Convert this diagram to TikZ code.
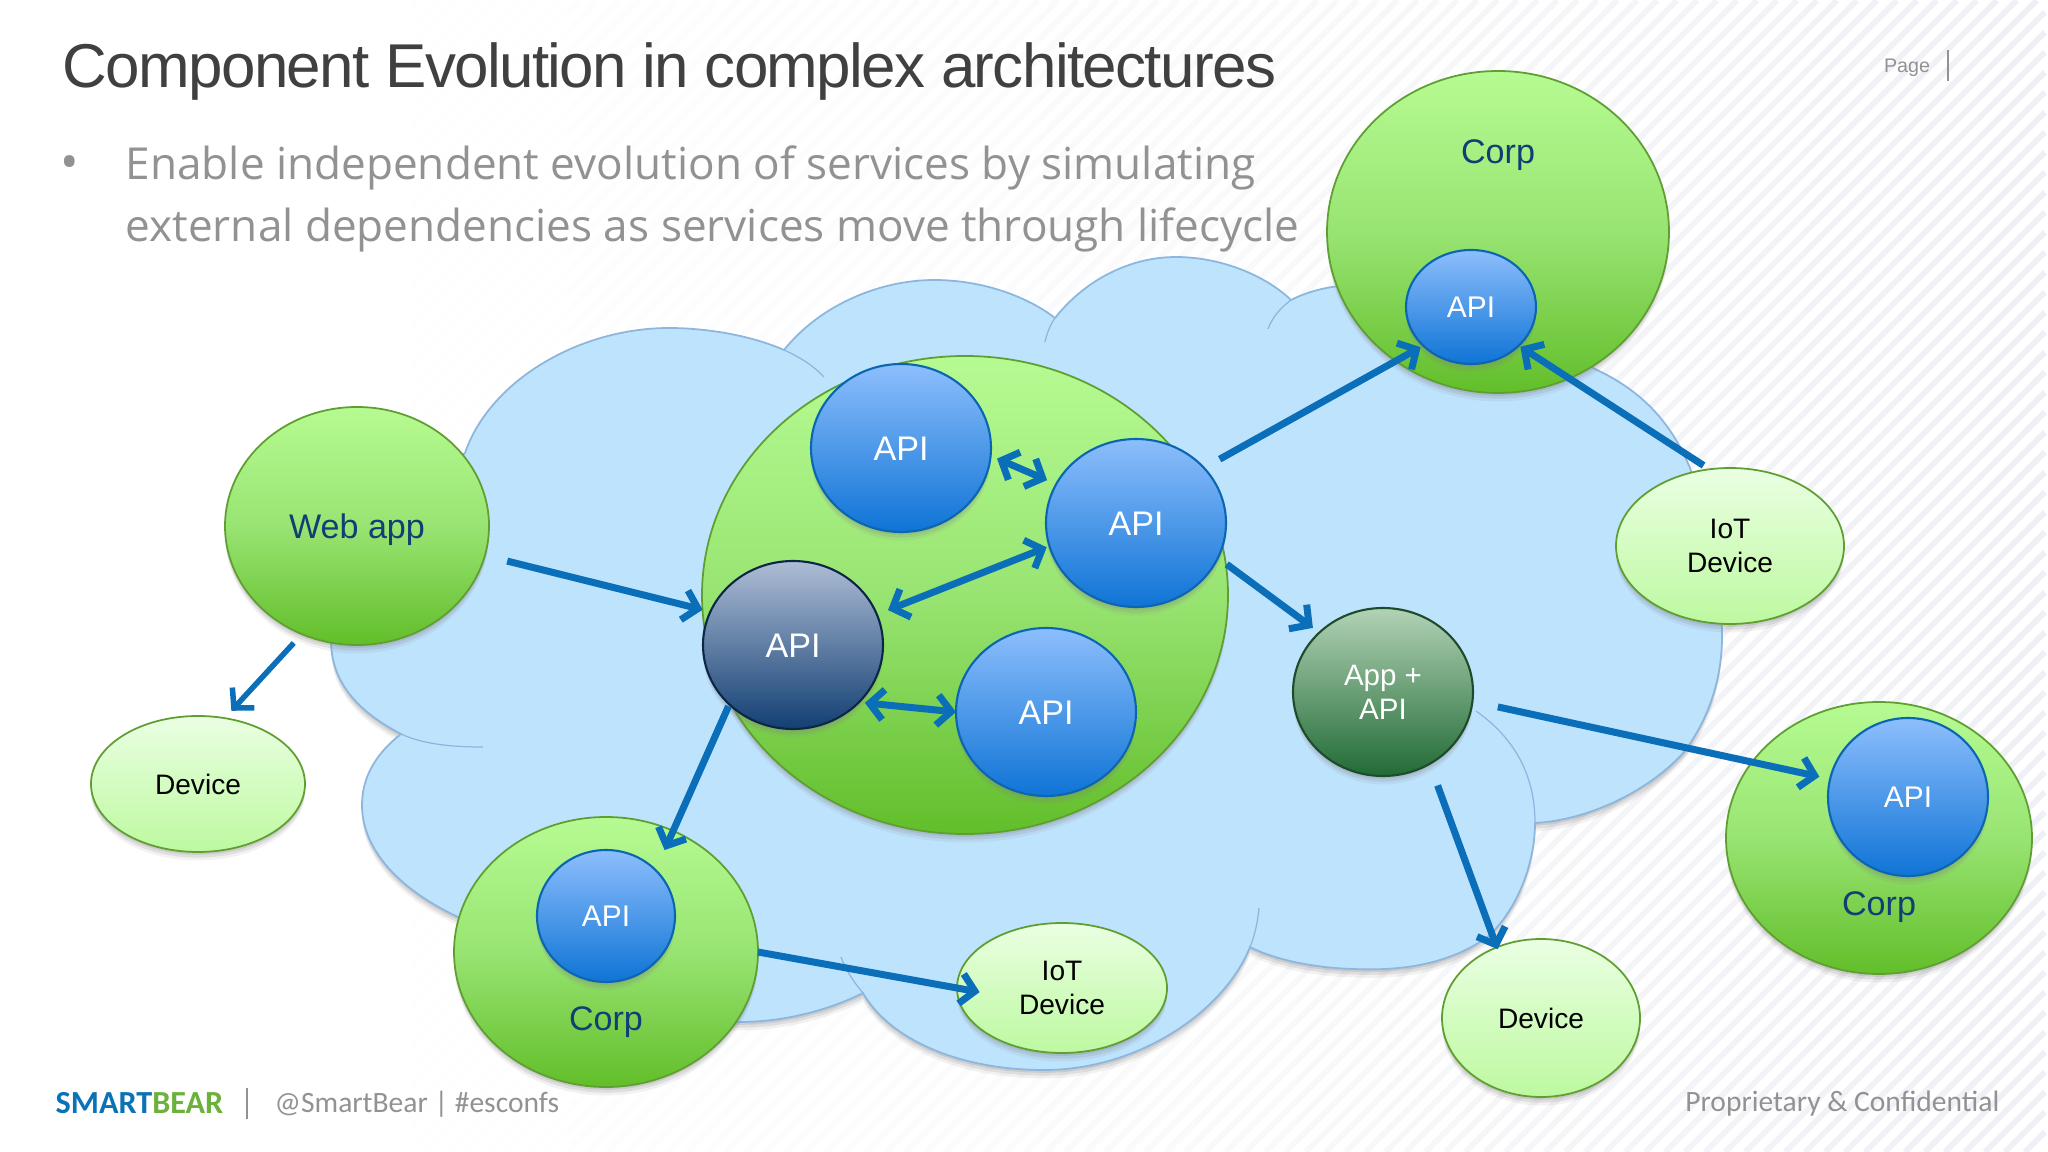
\documentclass[tikz,border=0pt]{standalone}
\usepackage{fontspec}
\setmainfont{Liberation Sans}
\newfontfamily\bodyfont{Open Sans}
\newfontfamily\footfont{Carlito}
\usetikzlibrary{arrows.meta,shapes.geometric,shadows,fadings}

\definecolor{cloudfill}{HTML}{BEE3FD}
\definecolor{cloudline}{HTML}{8DB6DE}
\definecolor{flowblue}{HTML}{0A6FB8}
\definecolor{stripeink}{HTML}{EFF0F5}
\definecolor{corpink}{HTML}{123F73}
\definecolor{titleink}{HTML}{404040}
\definecolor{bodyink}{HTML}{929292}
\definecolor{bearblue}{HTML}{0B72B5}
\definecolor{beargreen}{HTML}{6AB23C}
\definecolor{corpedge}{HTML}{5F9E30}
\definecolor{corptop}{HTML}{B6FB92}
\definecolor{corpmid}{HTML}{98E472}
\definecolor{corpbot}{HTML}{62BE2A}
\definecolor{apiedge}{HTML}{0A66B0}
\definecolor{apitop}{HTML}{8DBEFC}
\definecolor{apibot}{HTML}{0F74D6}
\definecolor{devtop}{HTML}{EAFFE2}
\definecolor{devbot}{HTML}{BDF9A0}
\definecolor{greytop}{HTML}{AEBDD6}
\definecolor{greybot}{HTML}{123F72}
\definecolor{greyedge}{HTML}{0C2745}
\definecolor{apptop}{HTML}{B2D2B6}
\definecolor{appbot}{HTML}{216B35}
\definecolor{appedge}{HTML}{1E4B2B}

\pgfdeclarehorizontalshading{stripeshade}{100bp}{color(0bp)=(pgftransparent!100); color(35bp)=(pgftransparent!100); color(55bp)=(pgftransparent!65); color(75bp)=(pgftransparent!0); color(100bp)=(pgftransparent!0)}
\pgfdeclarefading{stripefade}{\pgfuseshading{stripeshade}}

\tikzset{
    softshade/.style={drop shadow={shadow xshift=0pt,shadow yshift=-2.4pt,opacity=.10},
        drop shadow={shadow xshift=0pt,shadow yshift=-1.6pt,opacity=.16},
        drop shadow={shadow xshift=0pt,shadow yshift=-0.8pt,opacity=.2}},
    extent/.style 2 args={minimum width=#1*0.01cm, minimum height=#2*0.01cm},
    blob/.style={ellipse, inner sep=0pt, outer sep=0pt, line width=0.5pt, softshade, align=center},
    corpblob/.style={blob, draw=corpedge, top color=corptop, bottom color=corpbot, middle color=corpmid, font=\fontsize{9.7}{11.5}\selectfont, text=corpink},
    apiblob/.style={blob, draw=apiedge, line width=0.6pt, top color=apitop, bottom color=apibot, text=white, text height=7.2pt, font=\fontsize{9.7}{11.5}\selectfont},
    smallapi/.style={apiblob, text height=6pt, font=\fontsize{8.5}{10}\selectfont},
    devblob/.style={blob, draw=corpedge, top color=devtop, bottom color=devbot, font=\fontsize{8}{9.7}\selectfont},
    corptext/.style={text=corpink, font=\fontsize{9.7}{11.5}\selectfont},
    flow/.style={color=flowblue, line width=0.07cm, >={Straight Barb[length=0.14cm,width=0.3cm]}},
    thinflow/.style={flow, line width=0.055cm},
    from gap/.style={shorten <=#1*0.01cm},
    to gap/.style={shorten >=#1*0.01cm},
    cloudarc/.style={draw=cloudline, line width=0.35pt}
}

\begin{document}
\begin{tikzpicture}[x=0.01cm,y=-0.01cm]
    \useasboundingbox (0,0) rectangle (2048,1152);
    \fill[white] (0,0) rectangle (2048,1152);
    \draw[stripeink, line width=0.057cm, path fading=stripefade]
        (0,0) (2048,1152)
        foreach \c [evaluate=\c as \tx using {min(\c,2048)},
                    evaluate=\c as \ty using {max(0,\c-2048)},
                    evaluate=\c as \bx using {max(\c-1152,0)},
                    evaluate=\c as \by using {min(\c,1152)}] in {300,320,...,3200} {
            (\tx,\ty) -- (\bx,\by)
        };

    \path[draw=cloudline, line width=0.5pt, fill=cloudfill, softshade]
        (401,734) .. controls (355,710) and (331,680) .. (331,640)
        .. controls (331,570) and (400,500) .. (465,453)
        .. controls (490,380) and (580,328) .. (669,328)
        .. controls (705,328) and (750,335) .. (784,350)
        .. controls (820,305) and (880,280) .. (934,280)
        .. controls (980,280) and (1025,295) .. (1055,318)
        .. controls (1085,280) and (1130,257) .. (1176,257)
        .. controls (1220,257) and (1265,275) .. (1291,300)
        .. controls (1350,270) and (1450,280) .. (1595,369)
        .. controls (1640,390) and (1670,420) .. (1690,468)
        .. controls (1710,530) and (1722,590) .. (1722,637)
        .. controls (1722,680) and (1708,720) .. (1684,752)
        .. controls (1650,790) and (1590,820) .. (1535,823)
        .. controls (1535,860) and (1520,905) .. (1490,935)
        .. controls (1450,965) and (1400,971) .. (1354,969)
        .. controls (1315,968) and (1275,960) .. (1250,947)
        .. controls (1225,1010) and (1140,1070) .. (1044,1070)
        .. controls (960,1070) and (890,1040) .. (863,993)
        .. controls (825,1012) and (780,1022) .. (740,1022)
        .. controls (640,1030) and (520,960) .. (458,917)
        .. controls (400,890) and (362,850) .. (362,805)
        .. controls (362,775) and (378,752) .. (401,734) -- cycle;
    \draw[cloudarc] (784,350) .. controls (800,357) and (815,367) .. (824,377);
    \draw[cloudarc] (401,734) .. controls (425,745) and (455,747) .. (483,747);
    \draw[cloudarc] (1055,318) .. controls (1050,325) and (1047,333) .. (1045,342);
    \draw[cloudarc] (1291,300) .. controls (1280,308) and (1272,318) .. (1268,329);
    \draw[cloudarc] (1535,823) .. controls (1535,770) and (1510,735) .. (1476,711);
    \draw[cloudarc] (1250,947) .. controls (1255,935) and (1258,920) .. (1259,908);
    \draw[cloudarc] (863,993) .. controls (852,980) and (845,968) .. (841,957);

    \node[anchor=west, inner sep=0pt, text=titleink, font=\fontsize{17.6}{20}\selectfont\addfontfeature{LetterSpace=-2.6}] (title) at (62,72) {Component Evolution in complex architectures};
    \node[text=bodyink, font=\bodyfont\fontsize{14}{17.6}\selectfont] (bullet) at (70,168) {•};
    \node[anchor=west, align=left, inner sep=0pt, text=bodyink, font=\bodyfont\fontsize{12.54}{17.6}\selectfont] (intro) at (125,199)
        {Enable independent evolution of services by simulating\\external dependencies as services move through lifecycle};
    \node[text=bodyink, font=\fontsize{5.6}{7}\selectfont] (pagemark) at (1907,68) {Page};
    \draw[bodyink, line width=0.7pt] (1948,50) -- (1948,81);

    \node[anchor=west, inner sep=0pt, font=\footfont\bfseries\fontsize{9.15}{11}\selectfont] (brand) at (55,1103) {\textcolor{bearblue}{SMART}\textcolor{beargreen}{BEAR}};
    \draw[bodyink, line width=0.7pt] (247,1088) -- (247,1119);
    \node[anchor=west, inner sep=0pt, text=bodyink, font=\footfont\fontsize{8.4}{11}\selectfont] (handle) at (274,1104) {@SmartBear | \#esconfs};
    \node[anchor=east, inner sep=0pt, text=bodyink, font=\footfont\fontsize{8.4}{11}\selectfont] (conf) at (2000,1104) {Proprietary \& Confidential};

    \node[corpblob, extent={264}{238}, text height=.9em, text depth=.21em] (webapp) at (357,526) {Web app};
    \node[devblob, extent={214}{136}] (devicel) at (198,784) {Device};

    \node[corpblob, extent={526}{478}] (core) at (965,595) {};
    \node[apiblob, extent={180}{168}] (apitop) at (901,448) {API};
    \node[apiblob, extent={180}{168}] (apiright) at (1136,523) {API};
    \node[apiblob, extent={180}{168}] (apilow) at (1046,712) {API};
    \node[apiblob, draw=greyedge, top color=greytop, bottom color=greybot, extent={180}{168}] (apigrey) at (793,645) {API};
    \node[apiblob, draw=appedge, top color=apptop, bottom color=appbot, extent={180}{168}, text height=, font=\fontsize{8.4}{9.7}\selectfont] (appapi) at (1383,692) {App +\\API};

    \node[corpblob, extent={342}{322}] (corpt) at (1498,232) {};
    \node[corptext] (corpttext) at (1498,155) {Corp};
    \node[smallapi, extent={130}{114}] (apicorpt) at (1471,307) {API};
    \node[devblob, extent={228}{156}] (iotr) at (1730,546) {IoT\\Device};

    \node[corpblob, extent={306}{272}] (corpr) at (1879,838) {};
    \node[corptext] (corprtext) at (1879,907) {Corp};
    \node[smallapi, extent={160}{158}] (apicorpr) at (1908,797) {API};
    \node[devblob, extent={198}{158}] (devicer) at (1541,1018) {Device};

    \node[corpblob, extent={304}{270}] (corpb) at (606,952) {};
    \node[corptext] (corpbtext) at (606,1022) {Corp};
    \node[smallapi, extent={138}{132}] (apicorpb) at (606,916) {API};
    \node[devblob, extent={210}{130}] (iotb) at (1062,988) {IoT\\Device};

    \path[flow, ->]
        (webapp.-13.5) edge [from gap=23, to gap=8] (apigrey.158)
        (apiright.39.3) edge [from gap=18, to gap=3] (apicorpt.-141.3)
        (iotr.105.5) edge [from gap=7, to gap=2] (apicorpt.-39.2)
        (apiright.-23) edge [from gap=11, to gap=8] (appapi.137.1)
        (appapi.-6.4) edge [from gap=26, to gap=11] (apicorpr.167.3)
        (appapi.-57.8) edge [from gap=23, to gap=-2] (devicer.122)
        (apigrey.-137.7) edge [from gap=2, to gap=-21] (corpb.61.5)
        (corpb.0) edge [to gap=-23] (iotb.180);
    \path[thinflow, ->] (webapp.-117.7) edge [from gap=12, to gap=10] (devicel.68.9);
    \path[flow, <->]
        (apigrey.20.8) edge [from gap=12, to gap=3] (apiright.-165.7)
        (apitop.-5.3) edge [from gap=7, to gap=10] (apiright.154.7)
        (apigrey.-41.9) edge [from gap=6] (apilow.180);
\end{tikzpicture}
\end{document}
